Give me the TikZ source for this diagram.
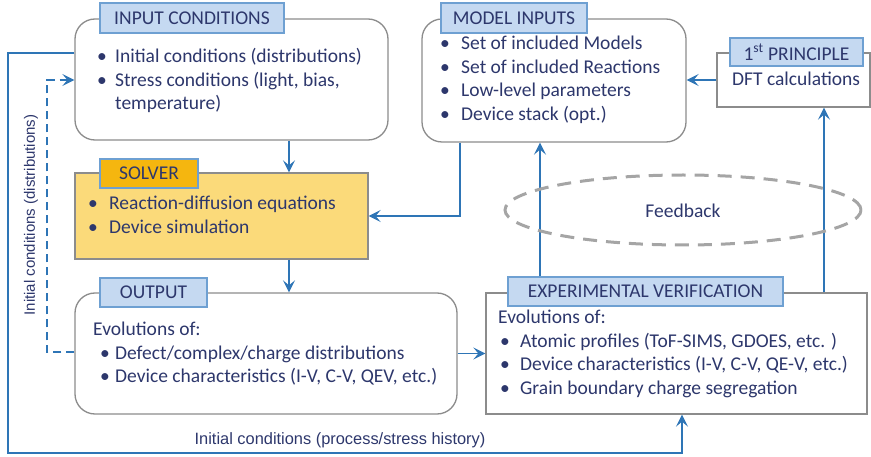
\documentclass[tikz,border=0pt]{standalone}
\usepackage{fontspec}
\setmainfont{Carlito}
\newfontfamily\lblfont{Liberation Sans}
\usetikzlibrary{arrows.meta,calc,shapes.geometric}
\definecolor{txt}{RGB}{45,55,108}
\definecolor{conn}{RGB}{46,117,182}
\definecolor{boxline}{RGB}{140,140,140}
\definecolor{hdrfill}{RGB}{197,217,241}
\definecolor{hdrline}{RGB}{110,160,210}
\definecolor{solfill}{RGB}{251,218,122}
\definecolor{solhdr}{RGB}{245,182,15}
\definecolor{fbgray}{RGB}{165,165,165}
\newcommand{\bult}[1]{\makebox[#1][l]{\textbullet}}
\begin{document}
\begin{tikzpicture}[x=1pt,y=-1pt,
  every node/.style={text=txt, font=\fontsize{19.5}{23.5}\selectfont},
  rbox/.style={draw=boxline, line width=1.3pt, rounded corners=20pt, inner sep=0pt, fill=white},
  sbox/.style={draw=boxline, line width=1.3pt, inner sep=0pt, fill=white},
  hdr/.style={draw=hdrline, fill=hdrfill, line width=1.2pt, inner sep=0pt},
  txtblk/.style={anchor=base west, inner sep=0pt},
  lbl/.style={font=\lblfont\fontsize{15}{18}\selectfont},
  conline/.style={draw=conn, line width=1.8pt},
  arr/.style={conline, -{Stealth[length=12pt,width=12pt,inset=5pt]}},
]
\useasboundingbox (0,0) rectangle (871,457);

% boxes
\node[rbox, minimum width=313, minimum height=121] (inp) at (231.5,79.5) {};
\node[rbox, minimum width=264, minimum height=123] (mod) at (554,80.5) {};
\node[sbox, minimum width=153, minimum height=54] (dft) at (793.5,80) {};
\node[sbox, fill=solfill, minimum width=293, minimum height=86] (sol) at (221.5,216) {};
\node[rbox, minimum width=382, minimum height=121] (out) at (266,353.5) {};
\node[sbox, minimum width=381, minimum height=121] (exp) at (676.5,353.5) {};

% headers
\node[hdr, minimum width=184, minimum height=30] (inph) at (192,18) {INPUT CONDITIONS};
\node[hdr, minimum width=146, minimum height=30] (modh) at (514,18) {MODEL INPUTS};
\node[hdr, minimum width=133, minimum height=28] (dfth) at (796.5,52) {1\textsuperscript{st} PRINCIPLE};
\node[hdr, fill=solhdr, minimum width=98, minimum height=29] (solh) at (149,173.5) {SOLVER};
\node[hdr, minimum width=107, minimum height=29] (outh) at (153.5,292.5) {OUTPUT};
\node[hdr, minimum width=275, minimum height=29] (exph) at (645.5,291.5) {EXPERIMENTAL VERIFICATION};

% texts
\node[txtblk] (inpt) at (97,63) {\begin{tabular}[t]{@{}l@{}}
\bult{18pt}Initial conditions (distributions)\\
\bult{18pt}Stress conditions (light, bias,\\
\hspace{18pt}temperature)\end{tabular}};
\node[txtblk] (modt) at (440,50) {\begin{tabular}[t]{@{}l@{}}
\bult{21pt}Set of included Models\\
\bult{21pt}Set of included Reactions\\
\bult{21pt}Low-level parameters\\
\bult{21pt}Device stack (opt.)\end{tabular}};
\node[txtblk] (dftt) at (732,86) {DFT calculations};
\node[txtblk] (solt) at (88,210) {\begin{tabular}[t]{@{}l@{}}
\bult{21pt}Reaction-diffusion equations\\
\bult{21pt}Device simulation\end{tabular}};
\node[txtblk] (outt) at (93,336) {\begin{tabular}[t]{@{}l@{}}
Evolutions of:\\
\hspace{7pt}\bult{15pt}Defect/complex/charge distributions\\
\hspace{7pt}\bult{15pt}Device characteristics (I-V, C-V, QEV, etc.)\end{tabular}};
\node[txtblk] (expt) at (498,324) {\begin{tabular}[t]{@{}l@{}}
Evolutions of:\\
\hspace{2pt}\bult{20pt}Atomic profiles (ToF-SIMS, GDOES, etc. )\\
\hspace{2pt}\bult{20pt}Device characteristics (I-V, C-V, QE-V, etc.)\\
\hspace{2pt}\bult{20pt}Grain boundary charge segregation\end{tabular}};

% connectors
\draw[arr] (289,0 |- inp.south) -- (289,0 |- sol.north);
\draw[arr] (289,0 |- sol.south) -- (289,0 |- out.north);
\draw[arr] (460,0 |- mod.south) |- (sol.east);
\draw[arr] (dft.west) -- (mod.east |- dft.west);
\draw[arr] (540,0 |- exph.north) -- (540,0 |- mod.south);
\draw[arr] (824,0 |- exp.north) -- (824,0 |- dft.south);
\draw[arr] (out.east) -- (exp.west);
\draw[arr] (inp.west |- 0,53) -| (8,453) -| (682,0 |- exp.south);
\draw[arr, dash pattern=on 8pt off 5pt, line width=1.5pt] (out.west |- 0,352) -| (47,80) -- (inp.west |- 0,80);

% labels
\node[lbl, font=\lblfont\fontsize{16.4}{19}\selectfont] (lblb) at (340,440) {Initial conditions (process/stress history)};
\node[lbl, rotate=90] (lblv) at (31,215) {Initial conditions (distributions)};

% feedback
\node[ellipse, draw=fbgray, dash pattern=on 14pt off 9pt, line width=3pt, minimum width=356, minimum height=70] (fb) at (683,210) {};
\node (fbt) at (683,211) {Feedback};
\end{tikzpicture}
\end{document}
